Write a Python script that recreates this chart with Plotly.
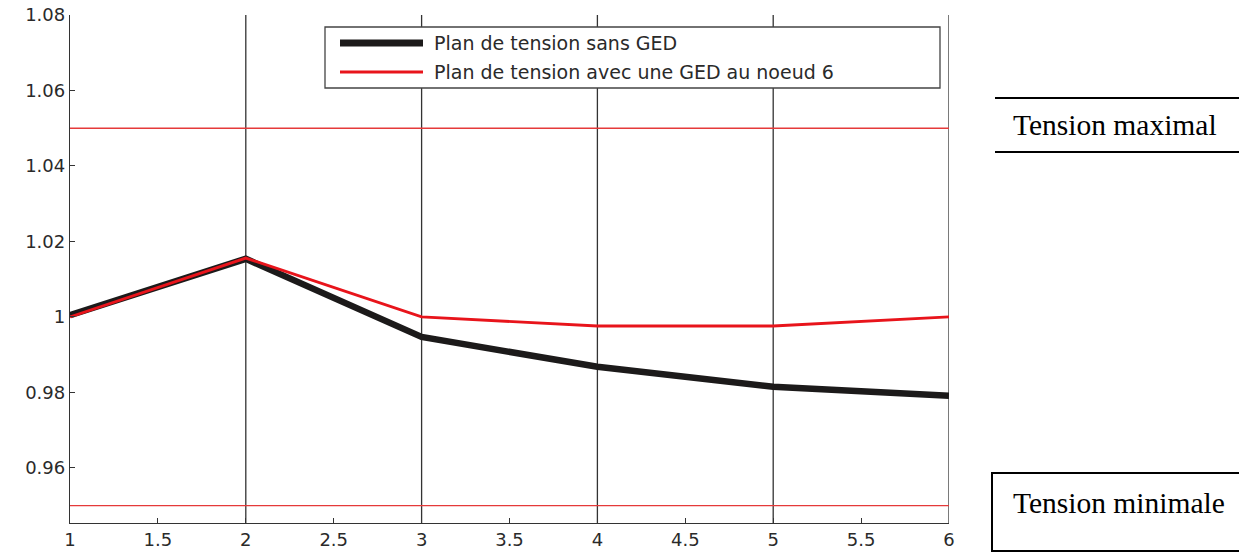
import plotly.graph_objects as go

# Nodes of the feeder and voltage profile (p.u.)
nodes = [1, 2, 3, 4, 5, 6]
v_sans_ged = [1.0005, 1.0154, 0.9947, 0.9868, 0.9815, 0.9791]
v_avec_ged = [1.0000, 1.0156, 1.0000, 0.9976, 0.9976, 1.0000]

series_names = ["Plan de tension sans GED", "Plan de tension avec une GED au noeud 6"]

# Voltage limits
v_max = 1.05
v_min = 0.95

# Axis ticks
x_ticks = [1, 1.5, 2, 2.5, 3, 3.5, 4, 4.5, 5, 5.5, 6]
y_ticks = [0.96, 0.98, 1.00, 1.02, 1.04, 1.06, 1.08]
y_tick_text = ["0.96", "0.98", "1", "1.02", "1.04", "1.06", "1.08"]
x_grid = [2, 3, 4, 5, 6]

W, H = 1239, 553
L, R, T, B = 70, 290, 15, 30
PW, PH = W - L - R, H - T - B


def px(xp):
    return (xp - L) / PW


def py(yp):
    return (H - B - yp) / PH


BLACK = "#1c1a1a"
RED = "#e8141b"
AXIS = "#333333"
TICK_FONT = dict(family="DejaVu Sans", size=18, color="#2a2a2a")

fig = go.Figure()

# Voltage limit lines
for v in (v_max, v_min):
    fig.add_trace(go.Scatter(
        x=[nodes[0], nodes[-1]], y=[v, v], mode="lines",
        line=dict(color="#e53a3a", width=1.4), hoverinfo="skip", showlegend=False,
    ))

fig.add_trace(go.Scatter(
    x=nodes, y=v_sans_ged, mode="lines", name=series_names[0],
    line=dict(color=BLACK, width=6.5), showlegend=False,
))
fig.add_trace(go.Scatter(
    x=nodes, y=v_avec_ged, mode="lines", name=series_names[1],
    line=dict(color=RED, width=2.8), showlegend=False,
))

shapes = []
# Vertical grid lines at integer nodes
for g in x_grid:
    shapes.append(dict(type="line", xref="x", yref="paper", x0=g, x1=g, y0=0, y1=1,
                       line=dict(color=AXIS, width=1.3), layer="below"))

# Legend frame and samples
shapes.append(dict(type="rect", xref="paper", yref="paper",
                   x0=px(325), x1=px(940), y0=py(88), y1=py(27),
                   line=dict(color="#444444", width=1.3), fillcolor="white", layer="above"))
shapes.append(dict(type="line", xref="paper", yref="paper",
                   x0=px(340), x1=px(423), y0=py(43), y1=py(43),
                   line=dict(color=BLACK, width=7), layer="above"))
shapes.append(dict(type="line", xref="paper", yref="paper",
                   x0=px(340), x1=px(423), y0=py(72), y1=py(72),
                   line=dict(color=RED, width=3), layer="above"))

# Side captions: limit labels
shapes.append(dict(type="line", xref="paper", yref="paper",
                   x0=px(995), x1=px(1240), y0=py(98), y1=py(98),
                   line=dict(color="black", width=2)))
shapes.append(dict(type="line", xref="paper", yref="paper",
                   x0=px(995), x1=px(1240), y0=py(152), y1=py(152),
                   line=dict(color="black", width=2)))
shapes.append(dict(type="rect", xref="paper", yref="paper",
                   x0=px(992), x1=px(1245), y0=py(551), y1=py(473),
                   line=dict(color="black", width=2)))

annotations = [
    dict(xref="paper", yref="paper", x=px(432), y=py(43), xanchor="left", yanchor="middle",
         text=series_names[0], showarrow=False,
         font=dict(family="DejaVu Sans", size=19, color="#2a2a2a")),
    dict(xref="paper", yref="paper", x=px(432), y=py(72), xanchor="left", yanchor="middle",
         text=series_names[1], showarrow=False,
         font=dict(family="DejaVu Sans", size=19, color="#2a2a2a")),
    dict(xref="paper", yref="paper", x=px(1011), y=py(125), xanchor="left", yanchor="middle",
         text="Tension maximal", showarrow=False,
         font=dict(family="Liberation Serif", size=29.5, color="black")),
    dict(xref="paper", yref="paper", x=px(1011), y=py(503), xanchor="left", yanchor="middle",
         text="Tension minimale", showarrow=False,
         font=dict(family="Liberation Serif", size=29.5, color="black")),
]

fig.update_layout(
    width=W, height=H,
    margin=dict(l=L, r=R, t=T, b=B, pad=0, autoexpand=False),
    paper_bgcolor="white", plot_bgcolor="white",
    shapes=shapes, annotations=annotations,
    showlegend=False,
    xaxis=dict(
        range=[1, 6], tickvals=x_ticks, ticks="inside", ticklen=5, tickcolor=AXIS,
        showline=True, linecolor=AXIS, linewidth=1.3, showgrid=False, zeroline=False,
        tickfont=TICK_FONT, fixedrange=True, automargin=False,
    ),
    yaxis=dict(
        range=[0.9454, 1.08], tickvals=y_ticks, ticktext=y_tick_text,
        ticks="inside", ticklen=5, tickcolor=AXIS,
        showline=True, linecolor=AXIS, linewidth=1.3, showgrid=False, zeroline=False,
        tickfont=TICK_FONT, fixedrange=True, automargin=False,
    ),
)

fig.write_html("out.html")
